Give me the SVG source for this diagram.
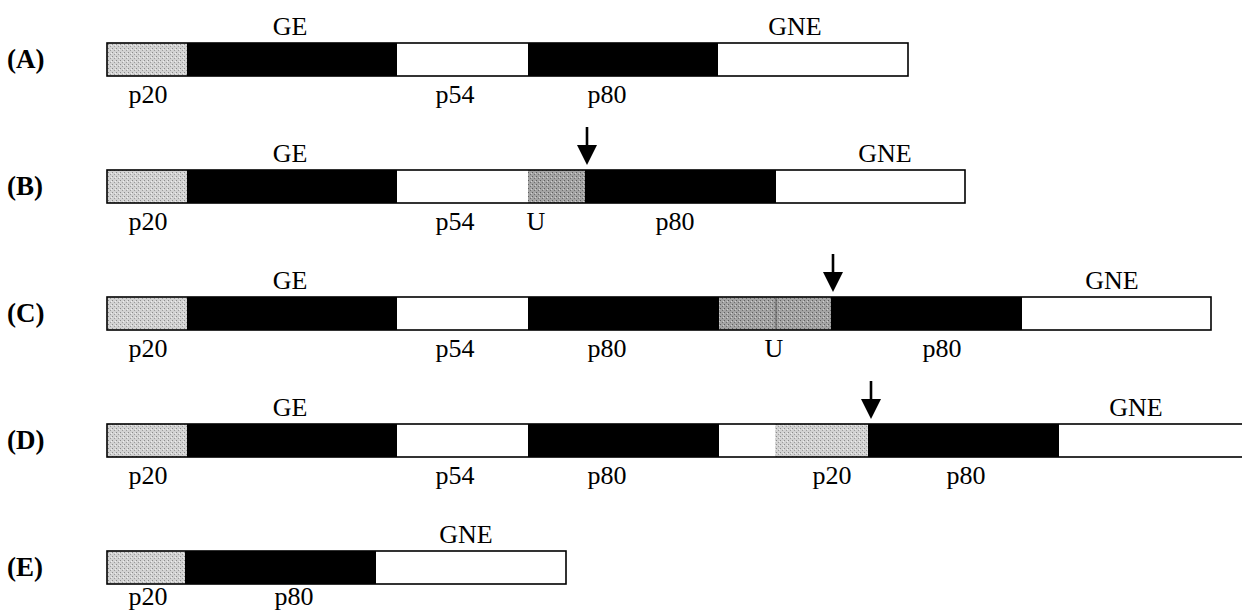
<svg xmlns="http://www.w3.org/2000/svg" width="1242" height="613" viewBox="0 0 1242 613">
<style>
text{font-family:"Liberation Serif","Times New Roman",serif;font-size:26px;fill:#000}
.c{text-anchor:middle}
.row{font-weight:bold;font-size:27px}
.blk{fill:#000}
.wht{fill:#fff}
.p20{fill:url(#stip)}
.u{fill:url(#stipD)}
.out{fill:none;stroke:#000;stroke-width:1.6}
.arr{stroke:#000;stroke-width:2.6;marker-end:url(#ah)}
</style>
<defs>
<pattern id="stip" width="4" height="4" patternUnits="userSpaceOnUse">
<rect width="4" height="4" fill="#d2d2d2"/>
<rect x="0" y="0" width="1" height="1" fill="#8c8c8c"/>
<rect x="2" y="2" width="1" height="1" fill="#9c9c9c"/>
<rect x="3" y="1" width="1" height="1" fill="#eeeeee"/>
</pattern>
<pattern id="stipD" width="4" height="4" patternUnits="userSpaceOnUse">
<rect width="4" height="4" fill="#a4a4a4"/>
<rect x="0" y="0" width="1" height="1" fill="#5e5e5e"/>
<rect x="2" y="2" width="1" height="1" fill="#6e6e6e"/>
<rect x="3" y="1" width="1" height="1" fill="#d0d0d0"/>
</pattern>
<marker id="ah" markerUnits="userSpaceOnUse" markerWidth="20" markerHeight="20" viewBox="0 0 20 20" refX="15" refY="10" orient="auto">
<path d="M0,0 L20,10 L0,20 Z" fill="#000"/>
</marker>
</defs>

<g id="rowA">
<text class="row" x="7" y="68">(A)</text>
<rect class="p20" x="107" y="43" width="80" height="33"/>
<rect class="blk" x="187" y="43" width="210" height="33"/>
<rect class="wht" x="397" y="43" width="131" height="33"/>
<rect class="blk" x="528" y="43" width="190" height="33"/>
<rect class="wht" x="718" y="43" width="190" height="33"/>
<rect class="out" x="107" y="43" width="801" height="33"/>
<text class="c" x="290" y="35">GE</text>
<text class="c" x="795" y="35">GNE</text>
<text class="c" x="148" y="103">p20</text>
<text class="c" x="455" y="103">p54</text>
<text class="c" x="607" y="103">p80</text>
</g>

<g id="rowB">
<text class="row" x="7" y="195">(B)</text>
<rect class="p20" x="107" y="170" width="80" height="33"/>
<rect class="blk" x="187" y="170" width="210" height="33"/>
<rect class="wht" x="397" y="170" width="131" height="33"/>
<rect class="u" x="528" y="170" width="57" height="33"/>
<rect class="blk" x="585" y="170" width="191" height="33"/>
<rect class="wht" x="776" y="170" width="189" height="33"/>
<rect class="out" x="107" y="170" width="858" height="33"/>
<text class="c" x="290" y="162">GE</text>
<text class="c" x="885" y="162">GNE</text>
<text class="c" x="148" y="230">p20</text>
<text class="c" x="455" y="230">p54</text>
<text class="c" x="536" y="230">U</text>
<text class="c" x="675" y="230">p80</text>
</g>

<g id="rowC">
<text class="row" x="7" y="322">(C)</text>
<rect class="p20" x="107" y="297" width="80" height="33"/>
<rect class="blk" x="187" y="297" width="210" height="33"/>
<rect class="wht" x="397" y="297" width="131" height="33"/>
<rect class="blk" x="528" y="297" width="191" height="33"/>
<rect class="u" x="719" y="297" width="112" height="33"/>
<line x1="776" y1="298" x2="776" y2="329" stroke="#555" stroke-width="1"/>
<rect class="blk" x="831" y="297" width="191" height="33"/>
<rect class="wht" x="1022" y="297" width="189" height="33"/>
<rect class="out" x="107" y="297" width="1104" height="33"/>
<text class="c" x="290" y="289">GE</text>
<text class="c" x="1112" y="289">GNE</text>
<text class="c" x="148" y="357">p20</text>
<text class="c" x="455" y="357">p54</text>
<text class="c" x="607" y="357">p80</text>
<text class="c" x="774" y="357">U</text>
<text class="c" x="942" y="357">p80</text>
</g>

<g id="rowD">
<text class="row" x="7" y="449">(D)</text>
<rect class="p20" x="107" y="424" width="80" height="33"/>
<rect class="blk" x="187" y="424" width="210" height="33"/>
<rect class="wht" x="397" y="424" width="131" height="33"/>
<rect class="blk" x="528" y="424" width="191" height="33"/>
<rect class="wht" x="719" y="424" width="56" height="33"/>
<rect class="p20" x="775" y="424" width="93" height="33"/>
<rect class="blk" x="868" y="424" width="191" height="33"/>
<rect class="wht" x="1059" y="424" width="190" height="33"/>
<rect class="out" x="107" y="424" width="1145" height="33"/>
<text class="c" x="290" y="416">GE</text>
<text class="c" x="1136" y="416">GNE</text>
<text class="c" x="148" y="484">p20</text>
<text class="c" x="455" y="484">p54</text>
<text class="c" x="607" y="484">p80</text>
<text class="c" x="832" y="484">p20</text>
<text class="c" x="966" y="484">p80</text>
</g>

<g id="rowE">
<text class="row" x="7" y="576">(E)</text>
<rect class="p20" x="107" y="551" width="78" height="33"/>
<rect class="blk" x="185" y="551" width="191" height="33"/>
<rect class="wht" x="376" y="551" width="190" height="33"/>
<rect class="out" x="107" y="551" width="459" height="33"/>
<text class="c" x="466" y="543">GNE</text>
<text class="c" x="148" y="605">p20</text>
<text class="c" x="294" y="605">p80</text>
</g>

<g id="connectors">
<line class="arr" x1="587" y1="127" x2="587" y2="160"/>
<line class="arr" x1="833" y1="254" x2="833" y2="287"/>
<line class="arr" x1="871" y1="381" x2="871" y2="414"/>
</g>
</svg>
